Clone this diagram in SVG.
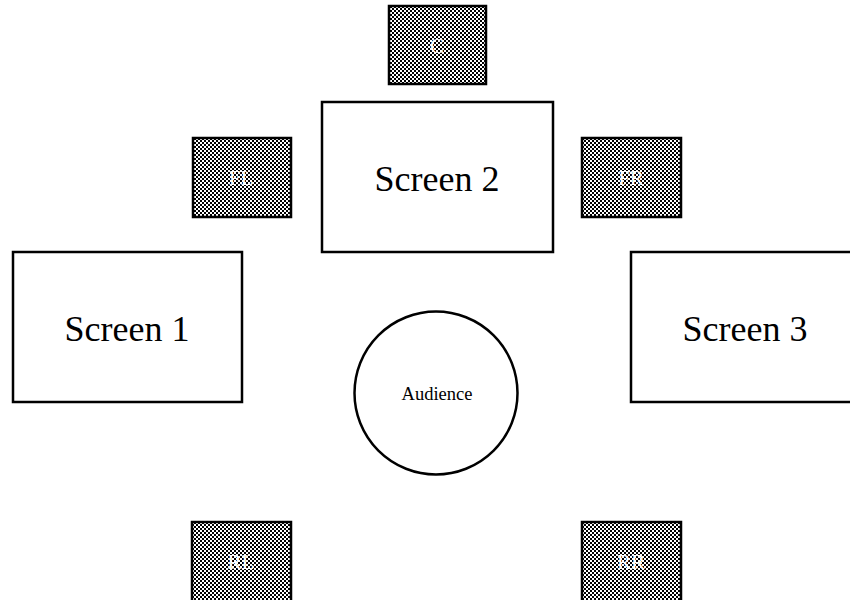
<svg xmlns="http://www.w3.org/2000/svg" width="850" height="600" viewBox="0 0 850 600">
<style>
.screen{fill:#fff;stroke:#000;stroke-width:2.5}
.spk{fill:url(#chk);stroke:#000;stroke-width:2.5}
.big{font-family:"Liberation Serif",serif;font-size:36px;fill:#000;text-anchor:middle}
.lbl{font-family:"Liberation Serif",serif;font-size:21px;fill:#fff;text-anchor:middle}
.aud{font-family:"Liberation Serif",serif;font-size:18.5px;fill:#000;text-anchor:middle}
</style>
<defs>
<pattern id="chk" width="4" height="4" patternUnits="userSpaceOnUse">
<rect width="4" height="4" fill="#fff"/>
<rect width="2" height="2" fill="#000"/>
<rect x="2" y="2" width="2" height="2" fill="#000"/>
</pattern>
</defs>
<rect width="850" height="600" fill="#fff"/>
<g id="connectors"></g>
<g id="screen1"><rect class="screen" x="13" y="252" width="229" height="150"/><text class="big" x="127" y="341">Screen 1</text></g>
<g id="screen2"><rect class="screen" x="322" y="102" width="231" height="150"/><text class="big" x="437" y="191">Screen 2</text></g>
<g id="screen3"><rect class="screen" x="631" y="252" width="230" height="150"/><text class="big" x="745" y="341">Screen 3</text></g>
<g id="audience"><circle cx="436" cy="393" r="81.5" fill="#fff" stroke="#000" stroke-width="2.5"/><text class="aud" x="437" y="400">Audience</text></g>
<g id="C"><rect class="spk" x="389" y="6" width="97" height="78"/><text class="lbl" x="437" y="53">C</text></g>
<g id="FL"><rect class="spk" x="193" y="138" width="98" height="79"/><text class="lbl" x="241" y="185">FL</text></g>
<g id="FR"><rect class="spk" x="582" y="138" width="99" height="79"/><text class="lbl" x="631" y="185">FR</text></g>
<g id="RL"><rect class="spk" x="192" y="522" width="99" height="90"/><text class="lbl" x="241" y="569">RL</text></g>
<g id="RR"><rect class="spk" x="582" y="522" width="99" height="90"/><text class="lbl" x="631" y="569">RR</text></g>
</svg>
